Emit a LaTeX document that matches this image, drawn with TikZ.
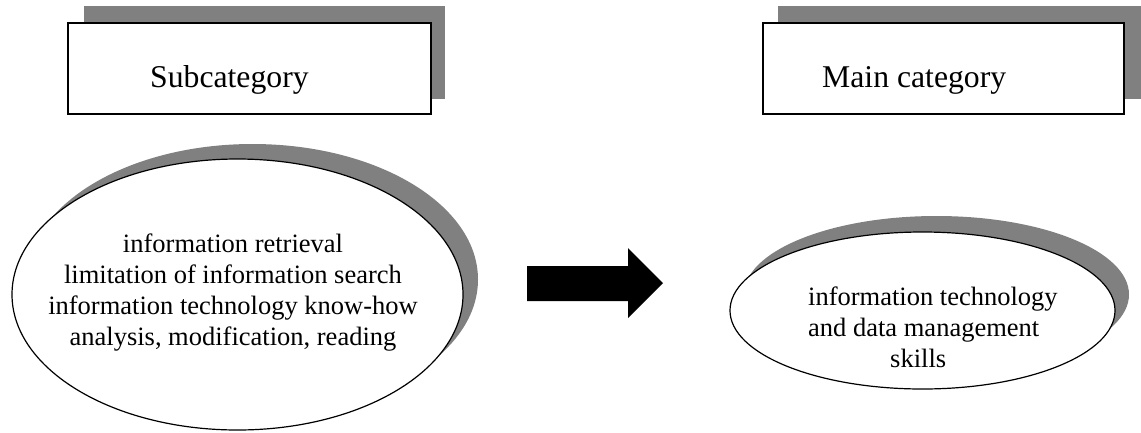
\documentclass[tikz,border=0pt]{standalone}
\usepackage{fontspec}
\setmainfont{Liberation Serif}
\usetikzlibrary{shapes.geometric}
\definecolor{shgray}{RGB}{128,128,128}
\begin{document}
\begin{tikzpicture}[x=1pt,y=-1pt,
  shadowbox/.style={rectangle, fill=shgray, draw=none, inner sep=0pt},
  shadowoval/.style={ellipse, fill=shgray, draw=none, inner sep=0pt},
  boxshape/.style={rectangle, draw=black, line width=1.6pt, fill=white, inner sep=0pt},
  ovalshape/.style={ellipse, draw=black, line width=1.2pt, fill=white, inner sep=0pt},
  boxlabel/.style={font=\fontsize{31.7}{38}\selectfont, inner sep=0pt, anchor=base west},
  ovallabel/.style={font=\fontsize{26.5}{31}\selectfont, inner sep=0pt}]
\useasboundingbox (0,0) rectangle (1141,432);
% boxes
\node[shadowbox, minimum width=361pt, minimum height=93pt] (subshadow) at (264.5,52.5) {};
\node[boxshape, minimum width=363pt, minimum height=91pt] (subbox) at (249.5,68.5) {};
\node[boxlabel] (sublabel) at (150,87) {Subcategory};
\node[shadowbox, minimum width=363pt, minimum height=93pt] (mainshadow) at (959.5,52.5) {};
\node[boxshape, minimum width=361pt, minimum height=91pt] (mainbox) at (943.5,68.5) {};
\node[boxlabel] (mainlabel) at (822,87) {Main category};
% ovals
\node[shadowoval, minimum width=451pt, minimum height=271pt] (subovalshadow) at (252.5,279.5) {};
\node[ovalshape, minimum width=451pt, minimum height=271pt] (suboval) at (237.5,294.5) {};
\node[ovallabel, align=center] (subtext) at (233,293) {information retrieval\\limitation of information search\\information technology know-how\\analysis, modification, reading};
\node[shadowoval, minimum width=385pt, minimum height=157pt] (mainovalshadow) at (936.5,294.5) {};
\node[ovalshape, minimum width=385pt, minimum height=157pt] (mainoval) at (922.5,310.5) {};
\node[ovallabel, align=left, anchor=north west] (maintext) at (808,287) {information technology\\and data management\\\hspace*{82pt}skills};
% block arrow
\fill[black] (527,266) -- (628,266) -- (628,248) -- (663,283) -- (628,318) -- (628,301) -- (527,301) -- cycle;
\end{tikzpicture}
\end{document}
